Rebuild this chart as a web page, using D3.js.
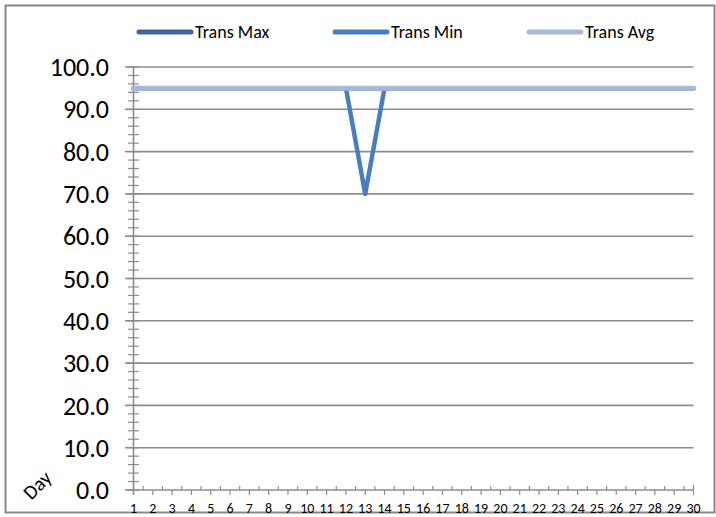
<!DOCTYPE html>
<html><head><meta charset="utf-8">
<script src="https://cdn.jsdelivr.net/npm/d3@7"></script>
<style>body{margin:0;background:#fff}svg{display:block}</style>
</head><body>
<svg id="c" width="716" height="517"></svg>
<script>
const days = d3.range(1, 31);
const transMax = days.map(() => 95);
const transMin = [95,95,95,95,95,95,95,95,95,95,95,95,70,95,95,95,95,95,95,95,95,95,95,95,95,95,95,95,95,95];
const transAvg = days.map(() => 95);
const yTicks = [0,10,20,30,40,50,60,70,80,90,100];
const seriesNames = ["Trans Max","Trans Min","Trans Avg"];
const colors = ["#3d6496","#4a7ebb","#a6b9da"];

const svg = d3.select("#c");
const font = "Carlito, 'Open Sans', 'Liberation Sans', sans-serif";
svg.append("rect").attr("x",5.5).attr("y",5.5).attr("width",709).attr("height",507)
  .attr("fill","#fff").attr("stroke","#888").attr("stroke-width",2);

const x = d3.scalePoint().domain(days).range([133.5, 693.5]);
const y = d3.scaleLinear().domain([0,100]).range([490, 67]);
const L = 133.5, R = 693.5;

// gridlines
svg.append("g").selectAll("line").data(yTicks.filter(d=>d>0)).join("line")
  .attr("x1",L).attr("x2",R).attr("y1",d=>y(d)).attr("y2",d=>y(d))
  .attr("stroke","#8c8c8c").attr("stroke-width",1.6);

// y minor ticks
svg.append("g").selectAll("line").data(d3.range(0,101,2)).join("line")
  .attr("x1",128).attr("x2",139).attr("y1",d=>y(d)).attr("y2",d=>y(d))
  .attr("stroke","#8c8c8c").attr("stroke-width",1.2);
// y major ticks
svg.append("g").selectAll("line").data(yTicks).join("line")
  .attr("x1",125).attr("x2",L).attr("y1",d=>y(d)).attr("y2",d=>y(d))
  .attr("stroke","#8c8c8c").attr("stroke-width",1.6);
// y axis line
svg.append("line").attr("x1",L).attr("x2",L).attr("y1",y(100)).attr("y2",y(0)+5)
  .attr("stroke","#8c8c8c").attr("stroke-width",1.6);
// y labels
svg.append("g").selectAll("text").data(yTicks).join("text")
  .attr("x",109).attr("y",d=>y(d)).attr("dy","0.35em").attr("text-anchor","end")
  .attr("font-family",font).attr("font-size",26).attr("fill","#000")
  .text(d=>d.toFixed(1));

// x axis
svg.append("line").attr("x1",L).attr("x2",R).attr("y1",y(0)).attr("y2",y(0))
  .attr("stroke","#8c8c8c").attr("stroke-width",1.6);
const step = x.step();
svg.append("g").selectAll("line").data(days).join("line")
  .attr("x1",d=>x(d)).attr("x2",d=>x(d)).attr("y1",y(0)).attr("y2",y(0)+5)
  .attr("stroke","#8c8c8c").attr("stroke-width",1.2);
svg.append("g").selectAll("line").data(days.slice(0,-1)).join("line")
  .attr("x1",d=>x(d)+step/2).attr("x2",d=>x(d)+step/2).attr("y1",y(0)-4).attr("y2",y(0))
  .attr("stroke","#8c8c8c").attr("stroke-width",1.2);
svg.append("line").attr("x1",R).attr("x2",R).attr("y1",y(0)-5).attr("y2",y(0))
  .attr("stroke","#8c8c8c").attr("stroke-width",1.2);
svg.append("g").selectAll("text").data(days).join("text")
  .attr("x",d=>x(d)).attr("y",508).attr("dy","0.35em").attr("text-anchor","middle")
  .attr("font-family",font).attr("font-size",14).attr("fill","#000")
  .text(d=>d);

// Day label
svg.append("text").attr("transform","translate(42,490) rotate(-45)")
  .attr("text-anchor","middle").attr("font-family",font).attr("font-size",20).attr("fill","#000")
  .text("Day");

// lines
const line = d3.line().x((d,i)=>x(days[i])).y(d=>y(d));
const data = [transMax, transMin, transAvg];
const widths = [4.5,4.5,5];
data.forEach((s,i)=>{
  svg.append("path").attr("d",line(s)).attr("fill","none")
    .attr("stroke",colors[i]).attr("stroke-width",widths[i])
    .attr("stroke-linejoin","round").attr("stroke-linecap","round");
});

// legend
const lx = [137, 333, 527];
seriesNames.forEach((n,i)=>{
  svg.append("line").attr("x1",lx[i]+2).attr("x2",lx[i]+54).attr("y1",32).attr("y2",32)
    .attr("stroke",colors[i]).attr("stroke-width",5).attr("stroke-linecap","round");
  svg.append("text").attr("x",lx[i]+58).attr("y",32).attr("dy","0.35em")
    .attr("font-family",font).attr("font-size",18).attr("fill","#000").text(n);
});
</script>
</body></html>
